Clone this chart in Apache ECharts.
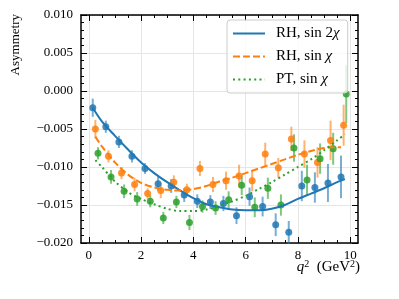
<!DOCTYPE html>
<html>
<head>
<meta charset="utf-8">
<script src="https://cdn.jsdelivr.net/npm/echarts@6/dist/echarts.min.js"></script>
<style>html,body{margin:0;padding:0;background:#fff}#c{width:399px;height:299px}</style>
</head>
<body>
<div id="c"></div>
<script>
// ---- data ----
const blueX   = [0.15,0.65,1.15,1.65,2.15,2.65,3.15,3.65,4.15,4.65,5.15,5.65,6.15,6.65,7.15,7.65,8.15,8.65,9.15,9.65];
const blueY   = [-0.0022,-0.0047,-0.0067,-0.0086,-0.0102,-0.0122,-0.0125,-0.0137,-0.0145,-0.0146,-0.0148,-0.0164,-0.0139,-0.0152,-0.0176,-0.0186,-0.0125,-0.0127,-0.0121,-0.0113];
const blueErr = [0.0012,0.0008,0.0008,0.0008,0.0007,0.0009,0.0009,0.0009,0.0009,0.0009,0.0010,0.0011,0.0012,0.0013,0.0015,0.0015,0.0020,0.0020,0.0025,0.0028];

const orangeX   = [0.25,0.75,1.25,1.75,2.25,2.75,3.25,3.75,4.25,4.75,5.25,5.75,6.25,6.75,7.25,7.75,8.25,8.75,9.25,9.75];
const orangeY   = [-0.0050,-0.0086,-0.0108,-0.0123,-0.0135,-0.0131,-0.0120,-0.0130,-0.0102,-0.0123,-0.0118,-0.0112,-0.0118,-0.0083,-0.0101,-0.0063,-0.0083,-0.0094,-0.0065,-0.0045];
const orangeErr = [0.0012,0.0008,0.0008,0.0009,0.0007,0.0010,0.0009,0.0008,0.0010,0.0010,0.0012,0.0015,0.0014,0.0015,0.0013,0.0016,0.0018,0.0020,0.0026,0.0027];

const greenX   = [0.35,0.85,1.35,1.85,2.35,2.85,3.35,3.85,4.35,4.85,5.35,5.85,6.35,6.85,7.35,7.85,8.35,8.85,9.35,9.85];
const greenY   = [-0.0082,-0.0113,-0.0132,-0.0142,-0.0145,-0.0167,-0.0146,-0.0173,-0.0152,-0.0154,-0.0143,-0.0124,-0.0153,-0.0128,-0.0150,-0.0075,-0.0117,-0.0089,-0.0076,-0.0004];
const greenErr = [0.0008,0.0009,0.0009,0.0009,0.0008,0.0008,0.0008,0.0010,0.0008,0.0009,0.0011,0.0013,0.0013,0.0014,0.0014,0.0018,0.0020,0.0020,0.0021,0.0038];

const blueFitX = [0.15,0.5,1,1.5,2,2.5,3,3.5,4,4.5,5,5.5,6,6.5,7,7.5,8,8.5,9,9.5,9.8];
const blueFit  = [-0.0022,-0.0040,-0.0059,-0.0077,-0.0094,-0.0108,-0.0120,-0.0131,-0.0141,-0.0149,-0.0153,-0.0156,-0.0157,-0.0157,-0.0155,-0.0150,-0.0142,-0.0135,-0.0128,-0.0120,-0.0116];
const orangeFitX = [0.25,0.5,1,1.5,2,2.5,3,3.5,4,4.5,5,5.5,6,6.5,7,7.5,8,8.5,9,9.3,9.65];
const orangeFit  = [-0.0060,-0.0073,-0.0094,-0.0110,-0.0121,-0.0127,-0.0130,-0.0131,-0.0129,-0.0125,-0.0119,-0.0114,-0.0108,-0.0102,-0.0096,-0.0090,-0.0084,-0.0079,-0.0075,-0.0074,-0.0074];
const greenFitX = [0.25,0.5,1,1.5,2,2.5,3,3.5,4,4.5,5,5.5,6,6.5,7,7.5,8,8.5,9,9.5,9.8];
const greenFit  = [-0.0091,-0.0100,-0.0119,-0.0133,-0.0142,-0.0149,-0.0155,-0.0158,-0.0158,-0.0156,-0.0151,-0.0145,-0.0138,-0.0129,-0.0120,-0.0110,-0.0100,-0.0090,-0.0078,-0.0065,-0.0057];

const seriesNames = ['RH, sin 2χ', 'RH, sin χ', 'PT, sin χ'];
const xMajorTicks = [0, 2, 4, 6, 8, 10];
const xMinorTicks = [0.5,1,1.5,2.5,3,3.5,4.5,5,5.5,6.5,7,7.5,8.5,9,9.5];

// ---- chart ----
const FONT = 'Liberation Serif';
const C = {blue:'#1f77b4', orange:'#ff7f0e', green:'#2ca02c'};
const CE = {blue:'rgba(31,119,180,0.6)', orange:'rgba(255,127,14,0.6)', green:'rgba(44,160,44,0.6)'};

function zip(x, y) { return x.map((v, i) => [v, y[i]]); }
function errData(x, y, e) { return x.map((v, i) => [v, y[i] - e[i], y[i] + e[i]]); }
function errRender(color) {
  return function (params, api) {
    const p1 = api.coord([api.value(0), api.value(1)]);
    const p2 = api.coord([api.value(0), api.value(2)]);
    return {type:'line', shape:{x1:p1[0], y1:p1[1], x2:p2[0], y2:p2[1]},
            style:{stroke:color, lineWidth:2}};
  };
}

const spine = {show:true, onZero:false, lineStyle:{color:'#000', width:1.5}};
function xAx(pos, ticks, len, main) {
  return {
    type:'value', position:pos, min:-0.3, max:10.3, interval:2,
    axisLine: main ? spine : {show:false, onZero:false},
    axisTick:{show:true, inside:true, length:len, customValues:ticks, lineStyle:{color:'#000', width:1}},
    axisLabel: (main && pos === 'bottom') ? {show:true, customValues:xMajorTicks, color:'#000', fontFamily:FONT, fontSize:13, margin:6} : {show:false},
    splitLine: (main && pos === 'bottom') ? {show:true, lineStyle:{color:'#e6e6e6', width:1}} : {show:false}
  };
}
function yAx(pos, main) {
  return {
    type:'value', position:pos, min:-0.02, max:0.01, interval:0.005,
    axisLine: spine,
    axisTick:{show:true, inside:true, length:6, lineStyle:{color:'#000', width:1}},
    minorTick:{show:true, splitNumber:5, length:3, lineStyle:{color:'#000', width:1}},
    axisLabel: main ? {show:true, color:'#000', fontFamily:FONT, fontSize:13, margin:8,
      formatter: v => (v < -1e-12 ? '\u2212' : '') + Math.abs(v).toFixed(3)} : {show:false},
    splitLine: main ? {show:true, lineStyle:{color:'#e6e6e6', width:1}} : {show:false}
  };
}

const legendRich = {
  t:{fontFamily:FONT, fontSize:15, color:'#000', lineHeight:14},
  g:{fontFamily:FONT, fontSize:15, fontStyle:'italic', color:'#000', lineHeight:14}
};

const chart = echarts.init(document.getElementById('c'), null, {renderer:'canvas'});
chart.setOption({
  animation:false,
  backgroundColor:'#fff',
  grid:{left:81, right:41, top:15, bottom:56, containLabel:false},
  xAxis:[xAx('bottom', xMajorTicks, 6, true), xAx('bottom', xMinorTicks, 3, false),
         xAx('top', xMajorTicks, 6, true), xAx('top', xMinorTicks, 3, false)],
  yAxis:[yAx('left', true), yAx('right', false)],
  title:{
    text:'{i|q}{s|2}  (GeV{s|2})', right:39, top:259, padding:0,
    textStyle:{rich:{
      i:{fontFamily:FONT, fontSize:15, fontStyle:'italic', fontWeight:'normal', color:'#000'},
      s:{fontFamily:FONT, fontSize:10, fontWeight:'normal', color:'#000', padding:[0,0,7,0]}
    }, fontFamily:FONT, fontSize:15, fontWeight:'normal', color:'#000'}
  },
  graphic:[{type:'text', x:16, y:14, rotation:Math.PI/2,
    style:{text:'Asymmetry', font:'13px "Liberation Serif"', fill:'#000', align:'right', verticalAlign:'middle'}}],
  legend:{
    orient:'vertical', left:227, top:20, padding:[6,8,6,5], itemGap:8,
    itemWidth:32, itemHeight:14,
    itemStyle:{opacity:0},
    backgroundColor:'rgba(255,255,255,0.8)', borderColor:'#cccccc', borderWidth:1, borderRadius:3,
    data:seriesNames,
    formatter: n => { const k = n.lastIndexOf('χ'); return '{t|' + n.slice(0, k) + '}{g|χ}'; },
    textStyle:{rich:legendRich, padding:[0,0,0,6]}
  },
  series:[
    {type:'custom', name:'blueErr', renderItem:errRender(CE.blue), data:errData(blueX, blueY, blueErr), encode:{x:0, y:[1,2]}, z:2},
    {type:'custom', name:'orangeErr', renderItem:errRender(CE.orange), data:errData(orangeX, orangeY, orangeErr), encode:{x:0, y:[1,2]}, z:2},
    {type:'custom', name:'greenErr', renderItem:errRender(CE.green), data:errData(greenX, greenY, greenErr), encode:{x:0, y:[1,2]}, z:2},
    {type:'scatter', name:'bluePts', data:zip(blueX, blueY), symbolSize:7, itemStyle:{color:C.blue, opacity:0.85}, z:3},
    {type:'scatter', name:'orangePts', data:zip(orangeX, orangeY), symbolSize:7, itemStyle:{color:C.orange, opacity:0.85}, z:3},
    {type:'scatter', name:'greenPts', data:zip(greenX, greenY), symbolSize:7, itemStyle:{color:C.green, opacity:0.85}, z:3},
    {type:'line', name:seriesNames[0], data:zip(blueFitX, blueFit), smooth:0.3, symbol:'none', color:C.blue,
      lineStyle:{color:C.blue, width:2, type:'solid'}, z:4},
    {type:'line', name:seriesNames[1], data:zip(orangeFitX, orangeFit), smooth:0.3, symbol:'none', color:C.orange,
      lineStyle:{color:C.orange, width:2, type:[7,3]}, z:4},
    {type:'line', name:seriesNames[2], data:zip(greenFitX, greenFit), smooth:0.3, symbol:'none', color:C.green,
      lineStyle:{color:C.green, width:2, type:[2,3.3]}, z:4}
  ]
});
</script>
</body>
</html>
